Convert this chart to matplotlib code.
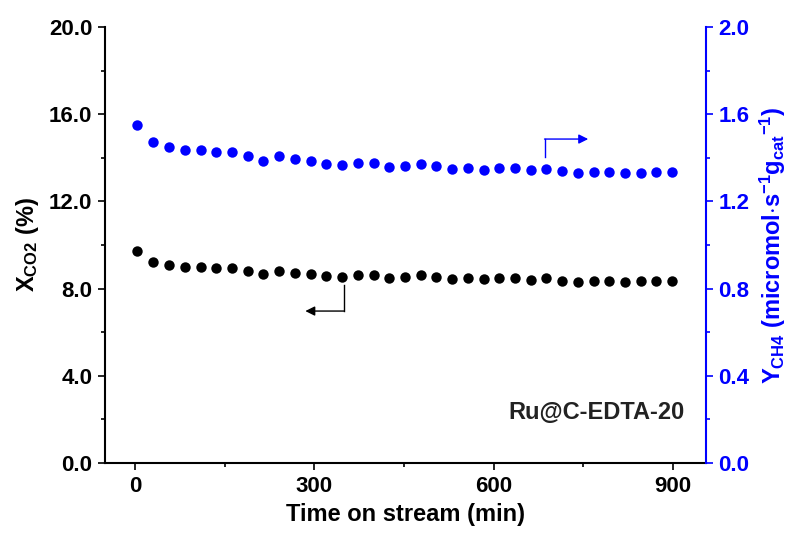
import matplotlib
matplotlib.use("Agg")
import matplotlib.pyplot as plt
from matplotlib.ticker import MultipleLocator, FormatStrFormatter

plt.rcParams['font.family'] = ['Liberation Sans', 'DejaVu Sans']
plt.rcParams['font.weight'] = 'bold'
plt.rcParams['mathtext.fontset'] = 'custom'
plt.rcParams['mathtext.rm'] = 'Liberation Sans:bold'
plt.rcParams['mathtext.bf'] = 'Liberation Sans:bold'
plt.rcParams['mathtext.it'] = 'Liberation Sans:bold'

time_min = [4, 31, 57, 84, 110, 136, 163, 189, 215, 241, 268, 294, 320, 347,
            373, 399, 425, 452, 478, 504, 531, 557, 583, 609, 636, 662, 688,
            714, 741, 767, 793, 819, 846, 872, 898]
x_co2 = [9.72, 9.21, 9.10, 9.00, 9.00, 8.94, 8.94, 8.82, 8.67, 8.82, 8.73, 8.67,
         8.59, 8.55, 8.64, 8.64, 8.50, 8.53, 8.61, 8.54, 8.44, 8.50, 8.43, 8.50,
         8.47, 8.39, 8.47, 8.36, 8.32, 8.33, 8.35, 8.30, 8.33, 8.33, 8.36]
y_ch4 = [1.550, 1.472, 1.450, 1.437, 1.437, 1.428, 1.428, 1.410, 1.384, 1.408,
         1.394, 1.385, 1.372, 1.366, 1.378, 1.378, 1.358, 1.362, 1.373, 1.363,
         1.347, 1.353, 1.346, 1.353, 1.352, 1.344, 1.350, 1.338, 1.330, 1.333,
         1.335, 1.329, 1.330, 1.335, 1.336]

BLUE = '#0000ff'
tfs = 16
lfs = 17

fig = plt.figure(figsize=(7.96, 5.35), dpi=100)
ax = fig.add_axes([105/796, 1-463/535, (706-105)/796, (463-27)/535])
ax2 = ax.twinx()

ax.plot(time_min, x_co2, 'o', color='black', markersize=7.5, markeredgewidth=0, zorder=3)
ax2.plot(time_min, y_ch4, 'o', color=BLUE, markersize=7.5, markeredgewidth=0, zorder=3)

ax.set_xlim(-50, 955)
ax.set_ylim(0, 20)
ax2.set_ylim(0, 2.0)

ax.xaxis.set_major_locator(MultipleLocator(300))
ax.xaxis.set_minor_locator(MultipleLocator(150))
ax.yaxis.set_major_locator(MultipleLocator(4))
ax.yaxis.set_minor_locator(MultipleLocator(2))
ax2.yaxis.set_major_locator(MultipleLocator(0.4))
ax2.yaxis.set_minor_locator(MultipleLocator(0.2))
ax.yaxis.set_major_formatter(FormatStrFormatter('%.1f'))
ax2.yaxis.set_major_formatter(FormatStrFormatter('%.1f'))

for a in (ax, ax2):
    a.spines['top'].set_visible(False)
    for s in a.spines.values():
        s.set_linewidth(1.5)
ax.spines['right'].set_visible(False)
ax2.spines['left'].set_visible(False)
ax2.spines['bottom'].set_visible(False)
ax2.spines['right'].set_color(BLUE)

ax.tick_params(axis='both', which='major', direction='out', length=5, width=1.2,
               labelsize=tfs, pad=4)
ax.tick_params(axis='both', which='minor', direction='out', length=3, width=1.2)
ax.tick_params(axis='x', which='both', top=False)
ax2.tick_params(axis='y', which='major', direction='out', length=5, width=1.2,
                labelsize=tfs, colors=BLUE, pad=4)
ax2.tick_params(axis='y', which='minor', direction='out', length=3, width=1.2, colors=BLUE)
for lab in ax.get_xticklabels() + ax.get_yticklabels() + ax2.get_yticklabels():
    lab.set_fontweight('bold')

ax.set_xlabel('Time on stream (min)', fontsize=lfs, fontweight='bold', labelpad=5)
ax.set_ylabel(r'X$_{\mathrm{CO2}}$ (%)', fontsize=lfs, fontweight='bold', labelpad=6)
ax2.set_ylabel(r'Y$_{\mathrm{CH4}}$ (micromol$\cdot$s$^{\mathrm{-1}}$g$_{\mathrm{cat}}$$^{\mathrm{ -1}}$)',
               fontsize=lfs, fontweight='bold', color=BLUE, labelpad=6)

ax.text(0.965, 0.115, 'Ru@C-EDTA-20', transform=ax.transAxes, ha='right', va='center',
        fontsize=lfs, fontweight='bold', color='#222222')

# arrows
ax.plot([350, 350], [8.17, 6.97], color='black', lw=1.0, zorder=2)
ax.annotate('', xy=(285, 6.97), xytext=(350, 6.97),
            arrowprops=dict(arrowstyle='-|>', color='black', lw=1.0,
                            mutation_scale=14, shrinkA=0, shrinkB=0))
ax2.plot([685, 685], [1.405, 1.486], color=BLUE, lw=1.0, zorder=2)
ax2.annotate('', xy=(758, 1.486), xytext=(685, 1.486),
             arrowprops=dict(arrowstyle='-|>', color=BLUE, lw=1.0,
                             mutation_scale=14, shrinkA=0, shrinkB=0))

fig.savefig('out.png', dpi=100)
